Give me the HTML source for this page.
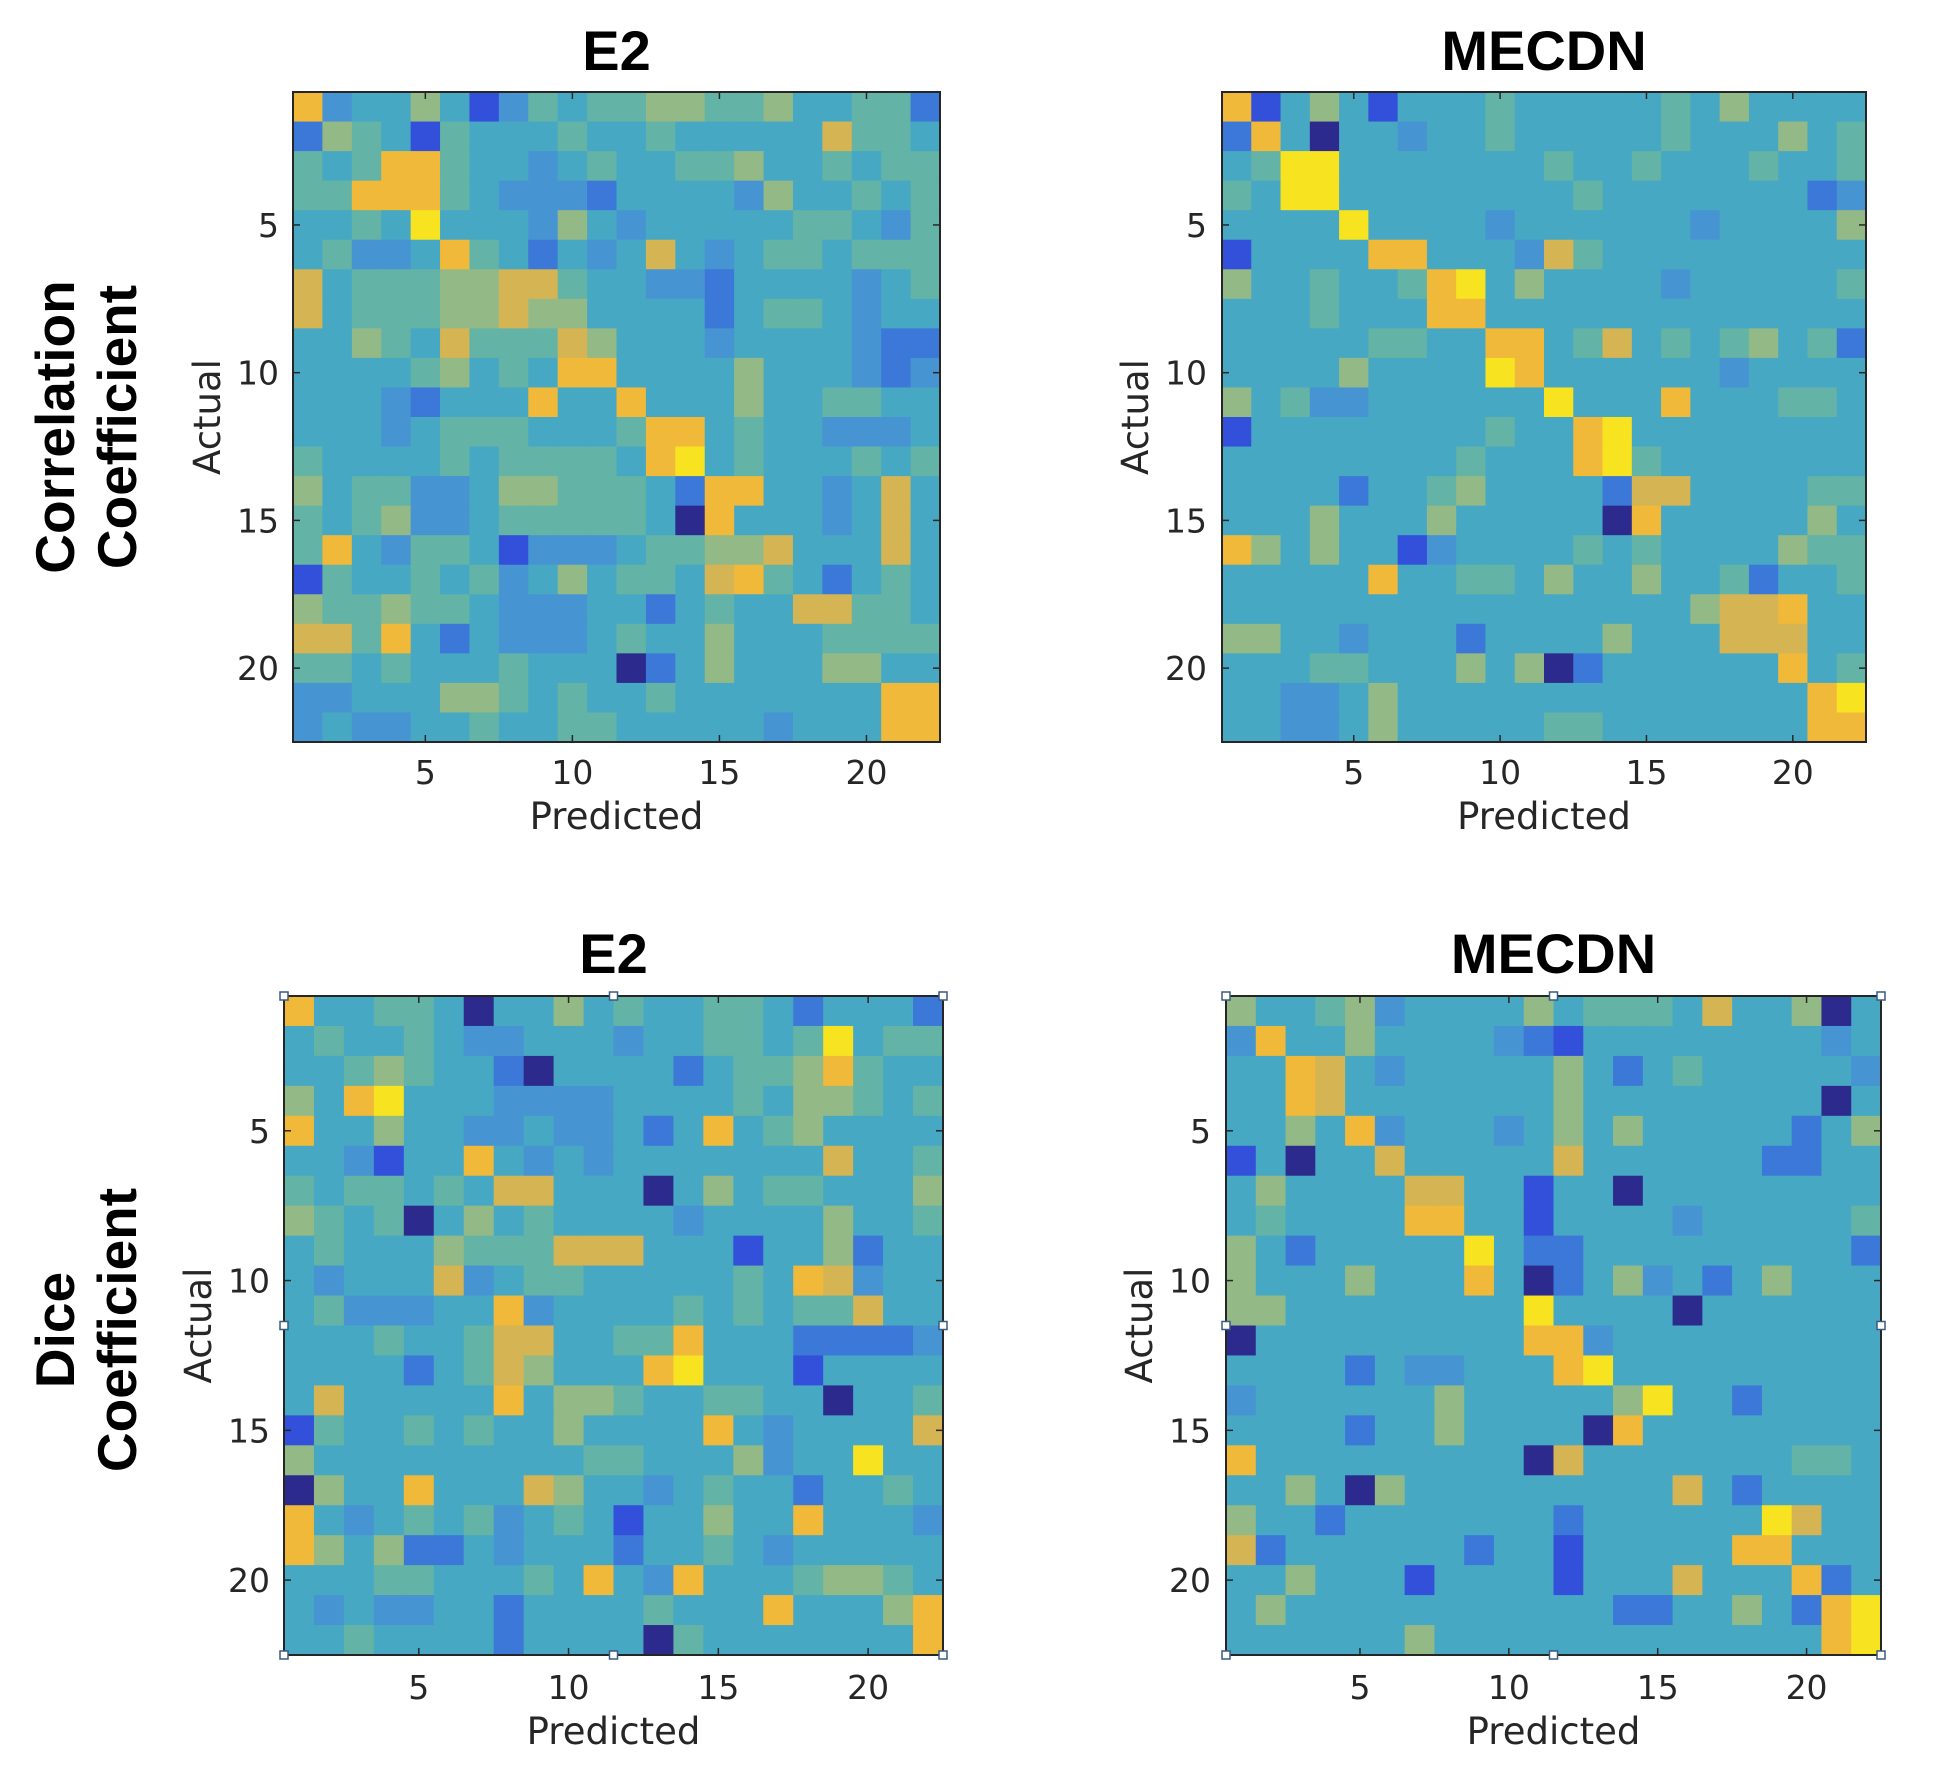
<!DOCTYPE html>
<html><head><meta charset="utf-8"><style>
html,body{margin:0;padding:0;background:#fff;}
svg{display:block;}
.t{font-family:"Liberation Sans",Arial,sans-serif;font-weight:bold;fill:#000;}
.k{font-family:"DejaVu Sans","Liberation Sans",sans-serif;fill:#262626;}
</style></head><body>
<svg id="fig" width="1941" height="1787" viewBox="0 0 1941 1787" xmlns="http://www.w3.org/2000/svg">
<text class="t" font-size="55" text-anchor="middle" transform="translate(88,427) rotate(-90)"><tspan x="0" dy="-14">Correlation</tspan><tspan x="0" dy="62">Coefficient</tspan></text>
<text class="t" font-size="55" text-anchor="middle" transform="translate(88,1330) rotate(-90)"><tspan x="0" dy="-14">Dice</tspan><tspan x="0" dy="62">Coefficient</tspan></text>
</svg>
<script>
const palette=["#2c2a8c","#3250da","#3c78d8","#4794d2","#47a8c4","#63b3a6","#93ba86","#d4b453","#f0b93a","#f8e321"];
const tickValues=[5,10,15,20];
const nCells=22;
const dataCorrE2=["8344641354556655644552","2654154445445444447554","5458854434544556445455","5588854333244443644545","4454944436434444455435","4533485424347434554555","7455566775443324444345","7455566766444424554344","4465475557644434444322","4444564548844446444323","4443244484484446445544","4443455544458845443334","5444454555548945444545","6455334665554288443474","5456334555554084443474","5843554133345566744474","1544545346455478542454","6556554333442454477554","7758424333454464445555","5545444544402464446644","3344466545445444444488","3433445445544444344488"];
const dataCorrMECDN=["8146414445444445464444","2840443445444445444645","4599444444454454445445","5499444444445444444423","4444944443444444344446","1444488444375444444444","6445445894644443444445","4445444884444444444444","4444455448845745456452","4444644449844444434444","6453344444494448444554","1444444445448944444444","4444444454448954444444","4444244564444277444455","4446444644444084444464","8646441344445454444655","4444484455464464452445","4444444444444444677844","6644344424444644477744","4445544464602444444845","4433464444444444444489","4433464444455444444488"];
const dataDiceE2=["8445540446454455424442","4544543344434455459455","4456544204444245568544","6489444333344445466545","8446443343342484564444","4431448434344444447445","5455454774440464554446","6545046454444344446445","4544465557774441446244","4344473455444445487344","4533344834444545455744","4445445774455844422223","4444245764448944414444","4744444846654455440445","1544545446444484344447","6444444444554446344944","0644844476443454424454","8434545345414464484443","8646224344424454344444","4445544454843844456654","4343344244445444844468","4454444244440544444448"];
const dataDiceMECDN=["6445634444645554744604","3844644443214444444434","4487434444464245444443","4487444444464444444404","4464834443464644444246","1404474444474444442244","4644447744144044444444","4544448844144443444445","6424444494224444444442","6444644484024634246444","6644444444944440444444","0444444444883444444444","4444243344489444444444","3444444644444694424444","4444244644440844444444","8444444444074444444554","4464064444444447424444","6442444444424444449744","7244444424414444488444","4464441444414447444824","4644444444444224464289","4444446444444444444489"];
const panels=[
 {name:"corr-e2",title:"E2",data:dataCorrE2,x0:293,y0:92,x1:940,y1:742,ylab:279,act:207,tickY:772,predY:816,titleY:50,markers:false},
 {name:"corr-mecdn",title:"MECDN",data:dataCorrMECDN,x0:1222,y0:92,x1:1866,y1:742,ylab:1207,act:1135,tickY:772,predY:816,titleY:50,markers:false},
 {name:"dice-e2",title:"E2",data:dataDiceE2,x0:284,y0:996,x1:943,y1:1655,ylab:270,act:198,tickY:1687,predY:1731,titleY:953,markers:true},
 {name:"dice-mecdn",title:"MECDN",data:dataDiceMECDN,x0:1226,y0:996,x1:1881,y1:1655,ylab:1211,act:1139,tickY:1687,predY:1731,titleY:953,markers:true}
];
const NS="http://www.w3.org/2000/svg";
const svg=document.getElementById("fig");
function mk(tag,attrs,parent){const e=document.createElementNS(NS,tag);for(const k in attrs)e.setAttribute(k,attrs[k]);(parent||svg).appendChild(e);return e;}
panels.forEach(p=>{
 const g=mk("g",{});
 
 
 const cw=(p.x1-p.x0)/nCells, ch=(p.y1-p.y0)/nCells;
 const xs=c=>p.x0+(c-0.5)*cw, ys=r=>p.y0+(r-0.5)*ch;
 p.data.forEach((row,r)=>{
  for(let c=0;c<nCells;c++){
   const v=+row[c];
   const rc=mk("rect",{x:(xs(c+1)-cw/2).toFixed(2),y:(ys(r+1)-ch/2).toFixed(2),width:(cw+0.6).toFixed(2),height:(ch+0.6).toFixed(2),fill:palette[v]},g);
   
   
  }
 });
 const fr=mk("rect",{x:p.x0,y:p.y0,width:p.x1-p.x0,height:p.y1-p.y0,fill:"none",stroke:"#262626","stroke-width":2},g);
 
 
 tickValues.forEach(t=>{
  const x=xs(t), y=ys(t);
  mk("line",{x1:x,y1:p.y1,x2:x,y2:p.y1-7,stroke:"#262626","stroke-width":1.5},g);
  mk("line",{x1:x,y1:p.y0,x2:x,y2:p.y0+7,stroke:"#262626","stroke-width":1.5},g);
  mk("line",{x1:p.x0,y1:y,x2:p.x0+7,y2:y,stroke:"#262626","stroke-width":1.5},g);
  mk("line",{x1:p.x1,y1:y,x2:p.x1-7,y2:y,stroke:"#262626","stroke-width":1.5},g);
  const tx=mk("text",{class:"k",x:x,y:p.tickY+12,"font-size":33,"text-anchor":"middle"},g);tx.textContent=t;
  
  
  const ty=mk("text",{class:"k",x:p.ylab,y:y+12,"font-size":33,"text-anchor":"end"},g);ty.textContent=t;
  
  
 });
 const xl=mk("text",{class:"k",x:(p.x0+p.x1)/2,y:p.predY+13,"font-size":37,"text-anchor":"middle"},g);xl.textContent="Predicted";
 
 
 const yl=mk("text",{class:"k","font-size":37,"text-anchor":"middle",transform:`translate(${p.act+13},${(p.y0+p.y1)/2}) rotate(-90)`},g);yl.textContent="Actual";
 
 
 const ti=mk("text",{class:"t",x:(p.x0+p.x1)/2,y:p.titleY+20,"font-size":56,"text-anchor":"middle"},g);ti.textContent=p.title;
 
 
 if(p.markers){
  const mx=[p.x0,(p.x0+p.x1)/2,p.x1], my=[p.y0,(p.y0+p.y1)/2,p.y1];
  mx.forEach((x,i)=>my.forEach((y,j)=>{
   if(i===1&&j===1)return;
   const m=mk("rect",{x:x-4,y:y-4,width:8,height:8,fill:"#fff",stroke:"#3a5a80","stroke-width":1.5},g);
   
   
  }));
 }
});
</script>
</body></html>
